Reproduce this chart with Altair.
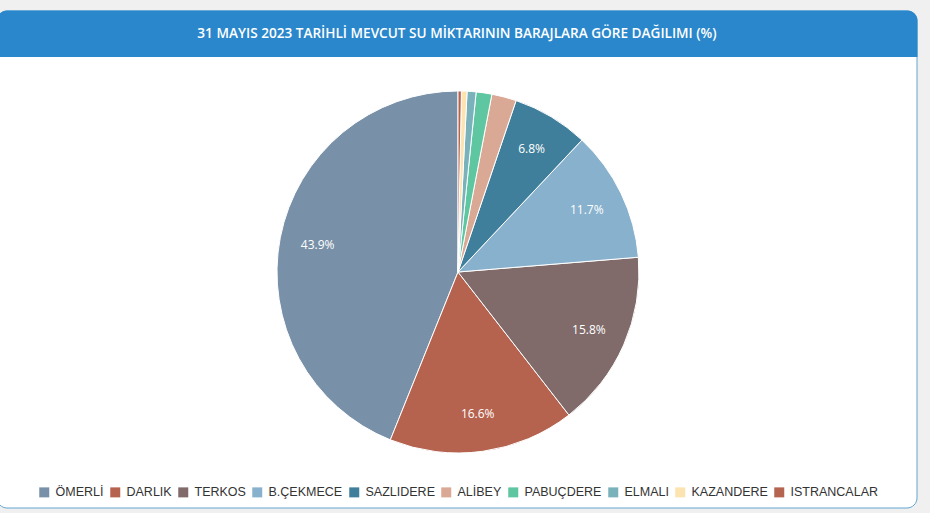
import altair as alt
import pandas as pd

names = ["ÖMERLİ", "DARLIK", "TERKOS", "B.ÇEKMECE", "SAZLIDERE",
         "ALİBEY", "PABUÇDERE", "ELMALI", "KAZANDERE", "ISTRANCALAR"]
values = [43.9, 16.6, 15.8, 11.7, 6.8, 2.2, 1.4, 0.8, 0.5, 0.3]
colors = ["#7890a8", "#b5634f", "#806b6a", "#87b1cc", "#3f7f9b",
          "#daa995", "#5ec6a0", "#7ab2bc", "#fde3b0", "#b4644f"]
title_text = "31 MAYIS 2023 TARİHLİ MEVCUT SU MİKTARININ BARAJLARA GÖRE DAĞILIMI (%)"

df = pd.DataFrame({"baraj": names, "oran": values, "sira": list(range(len(names)))})
df["etiket"] = [f"{v:.1f}%" if v >= 5 else "" for v in values]

one = pd.DataFrame({"a": [0]})

card = alt.Chart(one).mark_rect(
    fill="white", stroke="#62a6d2", strokeWidth=1, cornerRadius=10
).encode(x=alt.value(-3), x2=alt.value(917), y=alt.value(11), y2=alt.value(508))

header = alt.Chart(one).mark_rect(
    fill="#2a87cc", cornerRadiusTopLeft=10, cornerRadiusTopRight=10
).encode(x=alt.value(-3), x2=alt.value(917.5), y=alt.value(10.5), y2=alt.value(57))

title = alt.Chart(one).mark_text(
    text=title_text, font="Open Sans", fontWeight=600, fontSize=13.6,
    color="white", align="center", baseline="middle"
).encode(x=alt.value(457), y=alt.value(34))

base = alt.Chart(df).encode(
    theta=alt.Theta("oran:Q", stack=True),
    order=alt.Order("sira:Q", sort="descending"),
)

pie = base.mark_arc(outerRadius=181, stroke="white", strokeWidth=1).encode(
    color=alt.Color(
        "baraj:N",
        sort=names,
        scale=alt.Scale(domain=names, range=colors),
        legend=alt.Legend(
            title=None, orient="none", legendX=38, legendY=486,
            direction="horizontal", columns=10, symbolType="square",
            symbolSize=100, symbolStrokeWidth=0, labelFont="Liberation Sans",
            labelFontSize=12.5, labelColor="#333333", labelOffset=5,
            columnPadding=5, padding=0,
        ),
    ),
    x=alt.value(458), y=alt.value(272),
)

labels = base.mark_text(
    radius=143, fontSize=12, font="Open Sans", color="white"
).encode(text="etiket:N", x=alt.value(458), y=alt.value(272))

chart = alt.layer(card, header, title, pie, labels).properties(
    width=930, height=513, padding=0, autosize=alt.AutoSizeParams(type="none"),
    background="#f0f0f0",
).configure_view(strokeWidth=0)

chart.save("out.html", embed_options={"renderer": "svg", "actions": False})
